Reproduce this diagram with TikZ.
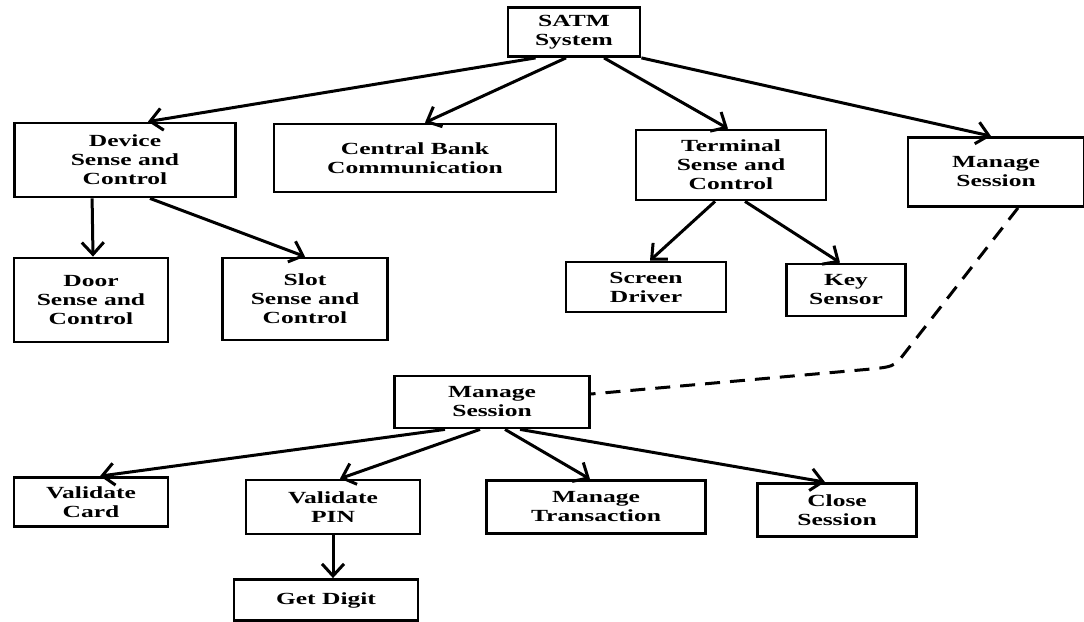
\documentclass[tikz,border=0pt]{standalone}
\usepackage{fontspec}
\setmainfont{Liberation Serif}[FakeStretch=1.5]
\usetikzlibrary{arrows.meta}

\begin{document}
\begin{tikzpicture}[x=1pt, y=-1pt]
        \tikzstyle{box}=[draw=black, line width=2.8pt, align=center, inner sep=0pt, font=\fontsize{17}{19}\selectfont\bfseries];
        \tikzstyle{arr}=[-{Straight Barb[length=12pt, width=22pt]}, line width=3pt];

        \fill[white] (0, 0) rectangle (1084, 621);
        \useasboundingbox (0, 0) rectangle (1084, 621);

        \node[box, minimum width=132, minimum height=49] (satm) at (574, 32) {SATM\\System};

        \node[box, minimum width=221, minimum height=74] (device) at (125, 160) {Device\\Sense and\\Control};
        \node[box, minimum width=282, minimum height=68] (bank) at (415, 158) {Central Bank\\Communication};
        \node[box, minimum width=190, minimum height=70] (terminal) at (731, 165) {Terminal\\Sense and\\Control};
        \node[box, minimum width=176, minimum height=69] (session) at (996, 172) {Manage\\Session};

        \node[box, minimum width=154, minimum height=84] (door) at (91, 300) {Door\\Sense and\\Control};
        \node[box, minimum width=165, minimum height=82] (slot) at (305, 299) {Slot\\Sense and\\Control};
        \node[box, minimum width=160, minimum height=50] (screen) at (646, 287) {Screen\\Driver};
        \node[box, minimum width=119, minimum height=52] (key) at (846, 290) {Key\\Sensor};

        \node[box, minimum width=195, minimum height=52] (manage) at (492, 402) {Manage\\Session};

        \node[box, minimum width=154, minimum height=49] (card) at (91, 502) {Validate\\Card};
        \node[box, minimum width=174, minimum height=54] (pin) at (333, 507) {Validate\\PIN};
        \node[box, minimum width=219, minimum height=53] (trans) at (596, 507) {Manage\\Transaction};
        \node[box, minimum width=159, minimum height=53] (close) at (837, 510) {Close\\Session};

        \node[box, minimum width=184, minimum height=41] (digit) at (326, 600) {Get Digit};

        \draw ([xshift=29pt]satm.south west) edge[arr] ([xshift=23pt]device.north);
        \draw ([xshift=-8pt]satm.south) edge[arr] ([xshift=10pt]bank.north);
        \draw ([xshift=30pt]satm.south) edge[arr] ([xshift=-3pt]terminal.north);
        \draw (satm.south east) edge[arr] ([xshift=-5pt]session.north);

        \draw ([xshift=79pt]device.south west) edge[arr] ([xshift=2pt]door.north);
        \draw ([xshift=25pt]device.south) edge[arr] (slot.north);
        \draw ([xshift=-16pt]terminal.south) edge[arr] ([xshift=4pt]screen.north);
        \draw ([xshift=14pt]terminal.south) edge[arr] ([xshift=-6pt]key.north);

        % link to the expanded session
        \coordinate (bend) at (904, 354);
        \draw[line width=3pt, dash pattern=on 15pt off 10pt] ([xshift=22pt]session.south) -- (bend) .. controls (894, 367) .. (860, 370) -- ([yshift=8pt]manage.east);

        \draw ([xshift=-47pt]manage.south) edge[arr] ([xshift=9pt]card.north);
        \draw ([xshift=-12pt]manage.south) edge[arr] ([xshift=7pt]pin.north);
        \draw ([xshift=13pt]manage.south) edge[arr] ([xshift=-6pt]trans.north);
        \draw ([xshift=28pt]manage.south) edge[arr] ([xshift=-12pt]close.north);

        \draw (pin.south) edge[arr] ([xshift=7pt]digit.north);
    \end{tikzpicture}
\end{document}
